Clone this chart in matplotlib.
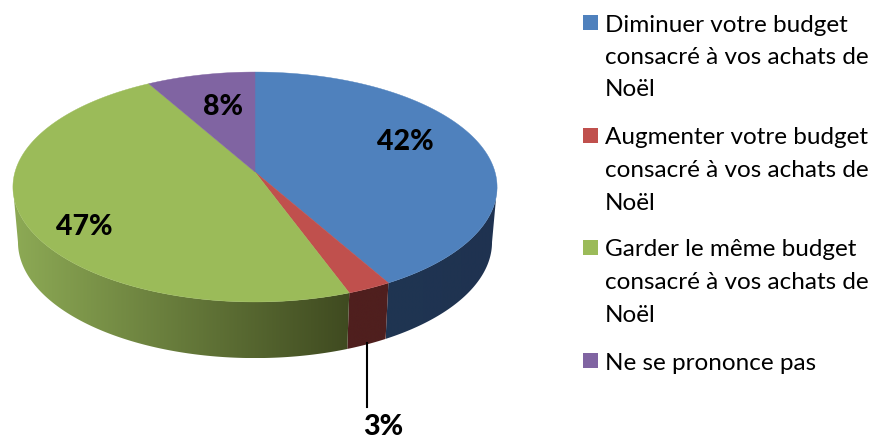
import numpy as np
import matplotlib.pyplot as plt
from matplotlib.colors import LinearSegmentedColormap
from matplotlib.patches import Polygon, Rectangle

# Data
labels = [
    ["Diminuer votre budget", "consacré à vos achats de", "Noël"],
    ["Augmenter votre budget", "consacré à vos achats de", "Noël"],
    ["Garder le même budget", "consacré à vos achats de", "Noël"],
    ["Ne se prononce pas"],
]
values = [41.8, 2.6, 47.4, 8.2]
colors = ["#4F81BD", "#C0504D", "#9BBB59", "#8064A2"]
side_colors = [("#1F3552", "#1F3250"), ("#4F1F1E", "#4F1F1E"), ("#8DAA55", "#3F4A20"), ("#4A3A60", "#4A3A60")]

plt.rcParams['font.family'] = ['Lato', 'DejaVu Sans']

fig = plt.figure(figsize=(8.76, 4.41), dpi=100)
ax = fig.add_axes([0, 0, 1, 1])


# Perspective projection of the pie disc, angle t is clockwise from the top
def project(t, a, c, b, k=0.1304, cx=255):
    u = np.sin(t)
    v = -np.cos(t)
    d = 1 - k * v
    return cx + a * u / d, c + b * v / d


def top(t):
    return project(t, 240, 172, 113)


def bottom(t):
    return project(t, 235, 227, 114)


edges = 2 * np.pi * np.cumsum([0] + values) / sum(values)
t_min, t_max = np.radians(97.5), np.radians(262.5)

# side walls
for i in range(len(values)):
    t0, t1 = max(edges[i], t_min), min(edges[i + 1], t_max)
    if t1 <= t0:
        continue
    t = np.linspace(t0, t1, 150)
    xt, yt = top(t)
    xb, yb = bottom(t)
    pts = np.r_[np.c_[xt, yt], np.c_[xb, yb][::-1]]
    poly = Polygon(pts, closed=True, fc="none", ec="none")
    ax.add_patch(poly)
    cmap = LinearSegmentedColormap.from_list("side", side_colors[i])
    x0, x1 = pts[:, 0].min(), pts[:, 0].max()
    im = ax.imshow(np.linspace(0, 1, 256)[None, :], cmap=cmap, aspect="auto",
                   extent=[x0, x1, pts[:, 1].max(), pts[:, 1].min()], zorder=1)
    im.set_clip_path(poly)

# top face
for i in range(len(values)):
    t = np.linspace(edges[i], edges[i + 1], 200)
    x, y = top(t)
    x = np.r_[255, x]
    y = np.r_[172, y]
    ax.fill(x, y, color=colors[i], lw=0.3, zorder=2)

# data labels
label_pos = [(405, 142), (383, 427), (84, 227), (223, 107)]
for v, (x, y) in zip(values, label_pos):
    ax.text(x, y, f"{round(v)}%", ha="center", va="center", fontsize=20.5,
            fontweight="black", color="black", zorder=4)
ax.plot([367, 367], [343, 407], color="black", lw=1.5, zorder=3)

# legend
line_h = 32.5
legend_y = [23, 136, 248, 361]
for lines, col, y0 in zip(labels, colors, legend_y):
    ax.add_patch(Rectangle((583, y0 - 8), 15, 15, fc=col, ec="none"))
    for j, line in enumerate(lines):
        ax.text(605, y0 + j * line_h, line, ha="left", va="center_baseline",
                fontsize=17.5, color="black")

ax.set_xlim(0, 876)
ax.set_ylim(441, 0)
ax.axis("off")
fig.savefig("out.png", dpi=100)
